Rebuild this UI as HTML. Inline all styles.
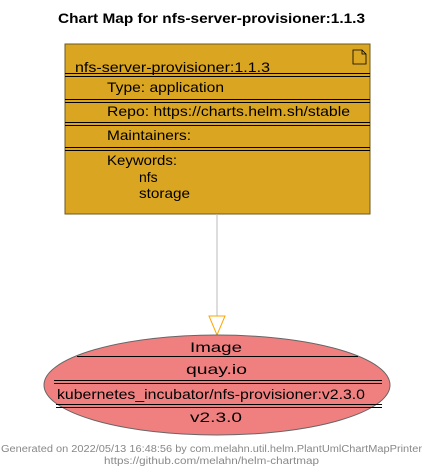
<!DOCTYPE html>
<html><head><style>body{margin:0;background:#fff}svg{display:block}</style></head><body>
<svg width="429" height="472" xmlns="http://www.w3.org/2000/svg" font-family="'Liberation Sans',sans-serif">
<text x="58" y="23" font-size="14" font-weight="bold" textLength="307" lengthAdjust="spacingAndGlyphs">Chart Map for nfs-server-provisioner:1.1.3</text>
<rect x="65" y="44" width="305" height="170" fill="#DAA520" stroke="#6b5a20" stroke-width="1"/>
<path d="M353 50h9l4 4v10h-13z M362 50v4h4" fill="none" stroke="#000" stroke-width="0.8"/>
<g font-size="14" fill="#000">
<text x="75" y="72" textLength="195" lengthAdjust="spacingAndGlyphs">nfs-server-provisioner:1.1.3</text>
<text x="107" y="92" textLength="117" lengthAdjust="spacingAndGlyphs">Type: application</text>
<text x="107" y="116" textLength="243" lengthAdjust="spacingAndGlyphs">Repo: https://charts.helm.sh/stable</text>
<text x="107" y="140" textLength="84" lengthAdjust="spacingAndGlyphs">Maintainers:</text>
<text x="107" y="165" textLength="70" lengthAdjust="spacingAndGlyphs">Keywords:</text>
<text x="139" y="182">nfs</text>
<text x="139" y="198" textLength="51" lengthAdjust="spacingAndGlyphs">storage</text>
</g>
<g stroke="#000" stroke-width="1">
<path d="M65 73.5h305M65 76.5h305M65 99.5h305M65 102.5h305M65 122.5h305M65 125.5h305M65 147.5h305M65 150.5h305"/>
</g>
<line x1="217" y1="214" x2="217" y2="316" stroke="#bbb"/>
<polygon points="209,316 225,316 217,335" fill="#fff" stroke="#FFA500"/>
<ellipse cx="217" cy="385" rx="173" ry="50" fill="#F08080" stroke="#666"/>
<g stroke="#000" stroke-width="1">
<path d="M77 356.5h281M54 380.5h328M54 383.5h328M56 404.5h326M56 407.5h326"/>
</g>
<g font-size="14">
<text x="190" y="352" textLength="52" lengthAdjust="spacingAndGlyphs">Image</text>
<text x="186" y="374" textLength="61" lengthAdjust="spacingAndGlyphs">quay.io</text>
<text x="57" y="399" textLength="308" lengthAdjust="spacingAndGlyphs">kubernetes_incubator/nfs-provisioner:v2.3.0</text>
<text x="190" y="422" textLength="52" lengthAdjust="spacingAndGlyphs">v2.3.0</text>
</g>
<g font-size="10" fill="#888">
<text x="1" y="452" textLength="421" lengthAdjust="spacingAndGlyphs">Generated on 2022/05/13 16:48:56 by com.melahn.util.helm.PlantUmlChartMapPrinter</text>
<text x="104" y="464" textLength="215" lengthAdjust="spacingAndGlyphs">https://github.com/melahn/helm-chartmap</text>
</g>
</svg>
</body></html>
